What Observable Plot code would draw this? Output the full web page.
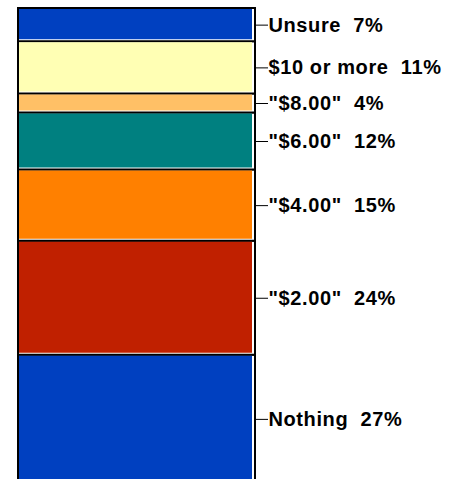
<!DOCTYPE html>
<html>
<head>
<meta charset="utf-8">
<script src="https://cdn.jsdelivr.net/npm/d3@7"></script>
<script src="https://cdn.jsdelivr.net/npm/@observablehq/plot@0.6"></script>
<style>
  html, body { margin: 0; padding: 0; background: #fff; overflow: hidden; }
  #chart svg { display: block; }
  #chart text { white-space: pre; letter-spacing: 0.6px; }
</style>
</head>
<body>
<div id="chart"></div>
<script>
// Categories from bottom of the stack to top
const categories = ["Nothing", "\"$2.00\"", "\"$4.00\"", "\"$6.00\"", "\"$8.00\"", "$10 or more", "Unsure"];
const values = [27, 24, 15, 12, 4, 11, 7];
const colors = ["#0040C0", "#C02000", "#FF8000", "#008080", "#FFC066", "#FFFFB4", "#0040C0"];

const ends = d3.cumsum(values);
const data = categories.map((c, i) => ({
  category: c,
  value: values[i],
  color: colors[i],
  y1: ends[i] - values[i],
  y2: ends[i],
  mid: ends[i] - values[i] / 2,
  label: `${c}  ${values[i]}%`
}));

const xLeft = 18, xRight = 255, leader = 13;
const x2Leader = 1 + leader / (xRight - xLeft);

const chart = Plot.plot({
  width: 450,
  height: 479,
  margin: 0,
  x: {domain: [0, 1], range: [xLeft, xRight], axis: null},
  y: {domain: [0, 100], range: [483, 8], axis: null},
  style: {fontFamily: "'Liberation Sans', Arial, sans-serif", background: "white"},
  marks: [
    Plot.rect(data, {x1: 0, x2: 1, y1: "y1", y2: "y2", fill: "white", stroke: "black", strokeWidth: 2}),
    Plot.rect(data, {x1: 0, x2: 1, y1: "y1", y2: "y2", fill: "color",
      insetLeft: 1, insetRight: 3, insetTop: 1, insetBottom: 2}),
    Plot.ruleY(data, {y: "mid", x1: 1, x2: x2Leader, stroke: "black", strokeWidth: 1}),
    Plot.text(data, {x: x2Leader, y: "mid", text: "label", textAnchor: "start", dx: 0,
      fontSize: 20, fontWeight: "bold", fill: "black"})
  ]
});
document.getElementById("chart").append(chart);
</script>
</body>
</html>
